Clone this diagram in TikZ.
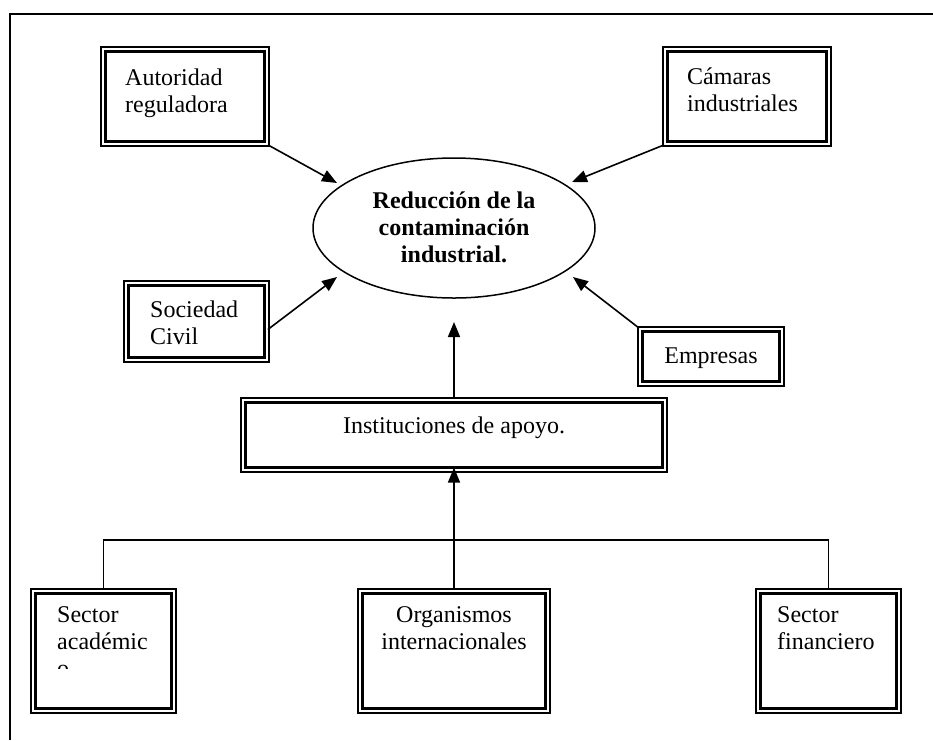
\documentclass[tikz,border=0pt]{standalone}
\usepackage{fontspec}
\setmainfont{Liberation Serif}
\usetikzlibrary{arrows.meta,shapes.geometric}
% stacked lines whose baseline is the first line's baseline
\newcommand{\linesl}[1]{\begin{tabular}[t]{@{}l@{}}#1\end{tabular}}
\newcommand{\linesc}[1]{\begin{tabular}[t]{@{}c@{}}#1\end{tabular}}
\begin{document}
\begin{tikzpicture}[x=1pt,y=-1pt,
  dbox/.style={draw, line width=2.3pt, double, double distance=2pt, inner sep=0pt},
  txt/.style={font=\fontsize{24}{27}\selectfont, inner sep=0pt, anchor=base west},
  ctxt/.style={txt, anchor=base},
  arr/.style={line width=1.6pt, -{Triangle[length=15pt,width=12pt]}},
  conn/.style={line width=1.6pt}]
\useasboundingbox (0,0) rectangle (933,740);

% page frame
\draw[line width=1.5pt] (10,740) -- (10,14) -- (933,14);

% central goal
\node[draw, ellipse, line width=1.5pt, minimum width=282pt, minimum height=140pt, inner sep=0pt] (red) at (454,228) {};
\node[ctxt, font=\fontsize{24}{27}\selectfont\bfseries] (redT) at (454,208)
  {\linesc{Reducción de la\\contaminación\\industrial.}};

% actors around the goal
\node[dbox, minimum width=163.4pt, minimum height=94.4pt] (aut) at (185,96.5) {};
\node[txt] (autT) at (125,85) {\linesl{Autoridad\\reguladora}};

\node[dbox, minimum width=163.4pt, minimum height=94.4pt] (cam) at (747,96.5) {};
\node[txt] (camT) at (687,84) {\linesl{Cámaras\\industriales}};

\node[dbox, minimum width=140.4pt, minimum height=76.4pt] (soc) at (196.5,321.5) {};
\node[txt] (socT) at (150,317) {\linesl{Sociedad\\Civil}};

\node[dbox, minimum width=141.4pt, minimum height=54.4pt] (emp) at (711,356.5) {};
\node[ctxt] (empT) at (711,363) {Empresas};

\node[dbox, minimum width=421.4pt, minimum height=69.4pt] (inst) at (454,435) {};
\node[ctxt] (instT) at (454,433) {Instituciones de apoyo.};

% supporting institutions
\node[dbox, minimum width=140.4pt, minimum height=119.4pt] (acad) at (103.5,651) {};
\begin{scope}
  \clip (30,580) rectangle (180,668);
  \node[txt] (acadT) at (57,622) {\linesl{Sector\\académic\\o}};
\end{scope}

\node[dbox, minimum width=187.4pt, minimum height=119.4pt] (org) at (454,651) {};
\node[ctxt] (orgT) at (454,622) {\linesc{Organismos\\internacionales}};

\node[dbox, minimum width=140.4pt, minimum height=119.4pt] (fin) at (828.5,651) {};
\node[txt] (finT) at (777,622) {\linesl{Sector\\financiero}};

% arrow tips near the goal
\coordinate (tA) at (337,183);
\coordinate (tB) at (572,182);
\coordinate (tC) at (337,277);
\coordinate (tD) at (573,277);
\coordinate (tE) at (454,322);
\coordinate (bar) at (0,540);

\draw[arr] (aut.south east) -- (tA);
\draw[arr] (cam.south west) -- (tB);
\draw[arr] ([yshift=-8pt]soc.east) -- (tC);
\draw[arr] (emp.north west) -- (tD);
\draw[arr] (inst.north) -- (tE);
\draw[arr, shorten >=-3.3pt] (org.north) -- (inst.south);
\draw[conn] (acad.north) -- (acad.north |- bar) -- (fin.north |- bar) -- (fin.north);
\end{tikzpicture}
\end{document}
